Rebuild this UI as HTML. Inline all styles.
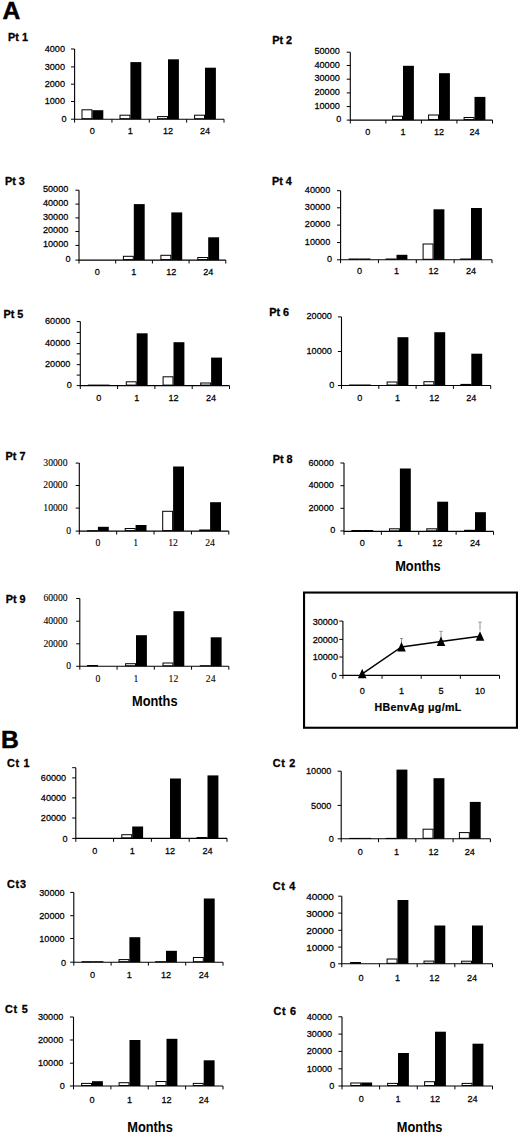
<!DOCTYPE html>
<html><head><meta charset="utf-8"><style>
html,body{margin:0;padding:0;background:#fff;}
body{width:520px;height:1133px;overflow:hidden;}
svg{display:block;}
text{fill:#000;}
.tk{stroke:#000;stroke-width:0.25px;}
.tks{stroke:#000;stroke-width:0.1px;}
.pl{font-family:'Liberation Sans', sans-serif;font-weight:bold;font-size:10.8px;stroke:#000;stroke-width:0.3px;}
.mo{font-family:'Liberation Sans', sans-serif;font-weight:bold;font-size:14px;}
.big{font-family:'Liberation Sans', sans-serif;font-weight:bold;font-size:24.6px;stroke:#000;stroke-width:0.5px;}
.hb{font-family:'Liberation Sans', sans-serif;font-weight:bold;font-size:10.6px;letter-spacing:0.36px;stroke:#000;stroke-width:0.2px;}
</style></head><body>
<svg width="520" height="1133" viewBox="0 0 520 1133">
<rect width="520" height="1133" fill="#fff"/>
<text x="8.1" y="40.6" class="pl">Pt 1</text>
<rect x="82" y="109.8" width="9.9" height="8.9" fill="#fff" stroke="#000" stroke-width="1"/>
<rect x="92.4" y="110.2" width="10.9" height="9" fill="#000"/>
<rect x="120" y="115.2" width="9.9" height="3.5" fill="#fff" stroke="#000" stroke-width="1"/>
<rect x="130.4" y="62.1" width="10.9" height="57.1" fill="#000"/>
<rect x="157.6" y="116.6" width="9.9" height="2.1" fill="#fff" stroke="#000" stroke-width="1"/>
<rect x="168" y="59.3" width="10.9" height="59.9" fill="#000"/>
<rect x="194.6" y="115.2" width="9.9" height="3.5" fill="#fff" stroke="#000" stroke-width="1"/>
<rect x="205" y="67.7" width="10.9" height="51.5" fill="#000"/>
<path d="M74.6 49V119.2H224" fill="none" stroke="#000" stroke-width="1.1"/>
<path d="M71 49H74.6M71 66.9H74.6M71 84.2H74.6M71 101.5H74.6M71 119.2H74.6M74.6 119.2v3.4M111.95 119.2v3.4M149.3 119.2v3.4M186.65 119.2v3.4M224 119.2v3.4" stroke="#000" stroke-width="1"/>
<text transform="translate(65 51.7) scale(0.95 1)" text-anchor="end" style="font-family:'Liberation Sans', sans-serif;font-size:9.6px" class="tk">4000</text>
<text transform="translate(65 69.6) scale(0.95 1)" text-anchor="end" style="font-family:'Liberation Sans', sans-serif;font-size:9.6px" class="tk">3000</text>
<text transform="translate(65 86.9) scale(0.95 1)" text-anchor="end" style="font-family:'Liberation Sans', sans-serif;font-size:9.6px" class="tk">2000</text>
<text transform="translate(65 104.2) scale(0.95 1)" text-anchor="end" style="font-family:'Liberation Sans', sans-serif;font-size:9.6px" class="tk">1000</text>
<text transform="translate(66.5 121.9) scale(0.95 1)" text-anchor="end" style="font-family:'Liberation Sans', sans-serif;font-size:9.6px" class="tk">0</text>
<text transform="translate(92.4 134.4) scale(0.95 1)" text-anchor="middle" style="font-family:'Liberation Sans', sans-serif;font-size:9.6px" class="tk">0</text>
<text transform="translate(130.4 134.4) scale(0.95 1)" text-anchor="middle" style="font-family:'Liberation Sans', sans-serif;font-size:9.6px" class="tk">1</text>
<text transform="translate(168 134.4) scale(0.95 1)" text-anchor="middle" style="font-family:'Liberation Sans', sans-serif;font-size:9.6px" class="tk">12</text>
<text transform="translate(205 134.4) scale(0.95 1)" text-anchor="middle" style="font-family:'Liberation Sans', sans-serif;font-size:9.6px" class="tk">24</text>
<text x="272.2" y="44" class="pl">Pt 2</text>
<rect x="392.6" y="116.2" width="9.9" height="3.4" fill="#fff" stroke="#000" stroke-width="1"/>
<rect x="403" y="65.8" width="10.9" height="54.3" fill="#000"/>
<rect x="428.6" y="115" width="9.9" height="4.6" fill="#fff" stroke="#000" stroke-width="1"/>
<rect x="439" y="73.2" width="10.9" height="46.9" fill="#000"/>
<rect x="464.1" y="117.5" width="9.9" height="2.1" fill="#fff" stroke="#000" stroke-width="1"/>
<rect x="474.5" y="96.9" width="10.9" height="23.2" fill="#000"/>
<path d="M350.3 52.2V120.1H492.5" fill="none" stroke="#000" stroke-width="1.1"/>
<path d="M346.7 52.2H350.3M346.7 65.5H350.3M346.7 79.2H350.3M346.7 92.9H350.3M346.7 106.6H350.3M346.7 120.1H350.3M350.3 120.1v3.4M385.85 120.1v3.4M421.4 120.1v3.4M456.95 120.1v3.4M492.5 120.1v3.4" stroke="#000" stroke-width="1"/>
<text transform="translate(339.8 54.25) scale(0.95 1)" text-anchor="end" style="font-family:'Liberation Sans', sans-serif;font-size:9.6px" class="tk">50000</text>
<text transform="translate(339.8 67.55) scale(0.95 1)" text-anchor="end" style="font-family:'Liberation Sans', sans-serif;font-size:9.6px" class="tk">40000</text>
<text transform="translate(339.8 81.25) scale(0.95 1)" text-anchor="end" style="font-family:'Liberation Sans', sans-serif;font-size:9.6px" class="tk">30000</text>
<text transform="translate(339.8 94.95) scale(0.95 1)" text-anchor="end" style="font-family:'Liberation Sans', sans-serif;font-size:9.6px" class="tk">20000</text>
<text transform="translate(339.8 108.65) scale(0.95 1)" text-anchor="end" style="font-family:'Liberation Sans', sans-serif;font-size:9.6px" class="tk">10000</text>
<text transform="translate(341.3 122.15) scale(0.95 1)" text-anchor="end" style="font-family:'Liberation Sans', sans-serif;font-size:9.6px" class="tk">0</text>
<text transform="translate(367.7 135) scale(0.95 1)" text-anchor="middle" style="font-family:'Liberation Sans', sans-serif;font-size:9.6px" class="tk">0</text>
<text transform="translate(403 135) scale(0.95 1)" text-anchor="middle" style="font-family:'Liberation Sans', sans-serif;font-size:9.6px" class="tk">1</text>
<text transform="translate(439 135) scale(0.95 1)" text-anchor="middle" style="font-family:'Liberation Sans', sans-serif;font-size:9.6px" class="tk">12</text>
<text transform="translate(474.5 135) scale(0.95 1)" text-anchor="middle" style="font-family:'Liberation Sans', sans-serif;font-size:9.6px" class="tk">24</text>
<text x="5" y="184.7" class="pl">Pt 3</text>
<rect x="123.4" y="256.3" width="9.9" height="3.3" fill="#fff" stroke="#000" stroke-width="1"/>
<rect x="133.8" y="204.1" width="10.9" height="56" fill="#000"/>
<rect x="160.9" y="255.3" width="9.9" height="4.3" fill="#fff" stroke="#000" stroke-width="1"/>
<rect x="171.3" y="212.4" width="10.9" height="47.7" fill="#000"/>
<rect x="197.8" y="257.5" width="9.9" height="2.1" fill="#fff" stroke="#000" stroke-width="1"/>
<rect x="208.2" y="237.3" width="10.9" height="22.8" fill="#000"/>
<path d="M79 190.2V260.1H225.8" fill="none" stroke="#000" stroke-width="1.1"/>
<path d="M75.4 190.2H79M75.4 204.1H79M75.4 217.9H79M75.4 231.5H79M75.4 245.4H79M75.4 260.1H79M79 260.1v3.4M115.7 260.1v3.4M152.4 260.1v3.4M189.1 260.1v3.4M225.8 260.1v3.4" stroke="#000" stroke-width="1"/>
<text transform="translate(68.3 192.05) scale(0.95 1)" text-anchor="end" style="font-family:'Liberation Sans', sans-serif;font-size:9.6px" class="tk">50000</text>
<text transform="translate(68.3 205.95) scale(0.95 1)" text-anchor="end" style="font-family:'Liberation Sans', sans-serif;font-size:9.6px" class="tk">40000</text>
<text transform="translate(68.3 219.75) scale(0.95 1)" text-anchor="end" style="font-family:'Liberation Sans', sans-serif;font-size:9.6px" class="tk">30000</text>
<text transform="translate(68.3 233.35) scale(0.95 1)" text-anchor="end" style="font-family:'Liberation Sans', sans-serif;font-size:9.6px" class="tk">20000</text>
<text transform="translate(68.3 247.25) scale(0.95 1)" text-anchor="end" style="font-family:'Liberation Sans', sans-serif;font-size:9.6px" class="tk">10000</text>
<text transform="translate(70.6 261.95) scale(0.95 1)" text-anchor="end" style="font-family:'Liberation Sans', sans-serif;font-size:9.6px" class="tk">0</text>
<text transform="translate(97.2 274.6) scale(0.95 1)" text-anchor="middle" style="font-family:'Liberation Sans', sans-serif;font-size:9.6px" class="tk">0</text>
<text transform="translate(133.8 274.6) scale(0.95 1)" text-anchor="middle" style="font-family:'Liberation Sans', sans-serif;font-size:9.6px" class="tk">1</text>
<text transform="translate(171.3 274.6) scale(0.95 1)" text-anchor="middle" style="font-family:'Liberation Sans', sans-serif;font-size:9.6px" class="tk">12</text>
<text transform="translate(208.2 274.6) scale(0.95 1)" text-anchor="middle" style="font-family:'Liberation Sans', sans-serif;font-size:9.6px" class="tk">24</text>
<text x="272" y="184.7" class="pl">Pt 4</text>
<rect x="349.1" y="259" width="9.9" height="0.3" fill="#fff" stroke="#000" stroke-width="1"/>
<rect x="359.5" y="258.5" width="10.9" height="1.3" fill="#000"/>
<rect x="386.1" y="259" width="9.9" height="0.3" fill="#fff" stroke="#000" stroke-width="1"/>
<rect x="396.5" y="254.8" width="10.9" height="5" fill="#000"/>
<rect x="423.1" y="244" width="9.9" height="15.3" fill="#fff" stroke="#000" stroke-width="1"/>
<rect x="433.5" y="209.3" width="10.9" height="50.5" fill="#000"/>
<rect x="460.6" y="259" width="9.9" height="0.3" fill="#fff" stroke="#000" stroke-width="1"/>
<rect x="471" y="208" width="10.9" height="51.8" fill="#000"/>
<path d="M340.6 190.7V259.8H492" fill="none" stroke="#000" stroke-width="1.1"/>
<path d="M337 190.7H340.6M337 207.8H340.6M337 225.1H340.6M337 242.6H340.6M337 259.8H340.6M340.6 259.8v3.4M378.45 259.8v3.4M416.3 259.8v3.4M454.15 259.8v3.4M492 259.8v3.4" stroke="#000" stroke-width="1"/>
<text transform="translate(330.2 192.6) scale(0.95 1)" text-anchor="end" style="font-family:'Liberation Sans', sans-serif;font-size:9.6px" class="tk">40000</text>
<text transform="translate(330.2 209.7) scale(0.95 1)" text-anchor="end" style="font-family:'Liberation Sans', sans-serif;font-size:9.6px" class="tk">30000</text>
<text transform="translate(330.2 227) scale(0.95 1)" text-anchor="end" style="font-family:'Liberation Sans', sans-serif;font-size:9.6px" class="tk">20000</text>
<text transform="translate(330.2 244.5) scale(0.95 1)" text-anchor="end" style="font-family:'Liberation Sans', sans-serif;font-size:9.6px" class="tk">10000</text>
<text transform="translate(332.2 261.7) scale(0.95 1)" text-anchor="end" style="font-family:'Liberation Sans', sans-serif;font-size:9.6px" class="tk">0</text>
<text transform="translate(359.5 274.4) scale(0.95 1)" text-anchor="middle" style="font-family:'Liberation Sans', sans-serif;font-size:9.6px" class="tk">0</text>
<text transform="translate(396.5 274.4) scale(0.95 1)" text-anchor="middle" style="font-family:'Liberation Sans', sans-serif;font-size:9.6px" class="tk">1</text>
<text transform="translate(433.5 274.4) scale(0.95 1)" text-anchor="middle" style="font-family:'Liberation Sans', sans-serif;font-size:9.6px" class="tk">12</text>
<text transform="translate(471 274.4) scale(0.95 1)" text-anchor="middle" style="font-family:'Liberation Sans', sans-serif;font-size:9.6px" class="tk">24</text>
<text x="3.5" y="318" class="pl">Pt 5</text>
<rect x="88.3" y="385.1" width="9.9" height="0.1" fill="#fff" stroke="#000" stroke-width="1"/>
<rect x="98.7" y="384.6" width="10.9" height="1" fill="#000"/>
<rect x="126.3" y="381.8" width="9.9" height="3.3" fill="#fff" stroke="#000" stroke-width="1"/>
<rect x="136.7" y="333.3" width="10.9" height="52.3" fill="#000"/>
<rect x="163.1" y="376.8" width="9.9" height="8.3" fill="#fff" stroke="#000" stroke-width="1"/>
<rect x="173.5" y="342.2" width="10.9" height="43.4" fill="#000"/>
<rect x="200.7" y="383" width="9.9" height="2.1" fill="#fff" stroke="#000" stroke-width="1"/>
<rect x="211.1" y="357.6" width="10.9" height="28" fill="#000"/>
<path d="M80.3 321.6V385.6H229.5" fill="none" stroke="#000" stroke-width="1.1"/>
<path d="M76.7 321.6H80.3M76.7 332.4H80.3M76.7 343.5H80.3M76.7 353.9H80.3M76.7 364.7H80.3M76.7 375.1H80.3M76.7 385.6H80.3M80.3 385.6v3.4M117.6 385.6v3.4M154.9 385.6v3.4M192.2 385.6v3.4M229.5 385.6v3.4" stroke="#000" stroke-width="1"/>
<text transform="translate(70.4 323.7) scale(0.95 1)" text-anchor="end" style="font-family:'Liberation Sans', sans-serif;font-size:9.6px" class="tk">60000</text>
<text transform="translate(70.4 345.6) scale(0.95 1)" text-anchor="end" style="font-family:'Liberation Sans', sans-serif;font-size:9.6px" class="tk">40000</text>
<text transform="translate(70.4 366.8) scale(0.95 1)" text-anchor="end" style="font-family:'Liberation Sans', sans-serif;font-size:9.6px" class="tk">20000</text>
<text transform="translate(71.9 387.7) scale(0.95 1)" text-anchor="end" style="font-family:'Liberation Sans', sans-serif;font-size:9.6px" class="tk">0</text>
<text transform="translate(98.7 401.1) scale(0.95 1)" text-anchor="middle" style="font-family:'Liberation Sans', sans-serif;font-size:9.6px" class="tk">0</text>
<text transform="translate(136.7 401.1) scale(0.95 1)" text-anchor="middle" style="font-family:'Liberation Sans', sans-serif;font-size:9.6px" class="tk">1</text>
<text transform="translate(173.5 401.1) scale(0.95 1)" text-anchor="middle" style="font-family:'Liberation Sans', sans-serif;font-size:9.6px" class="tk">12</text>
<text transform="translate(211.1 401.1) scale(0.95 1)" text-anchor="middle" style="font-family:'Liberation Sans', sans-serif;font-size:9.6px" class="tk">24</text>
<text x="269.2" y="316.1" class="pl">Pt 6</text>
<rect x="349.5" y="385" width="9.9" height="0.1" fill="#fff" stroke="#000" stroke-width="1"/>
<rect x="359.9" y="384.5" width="10.9" height="1" fill="#000"/>
<rect x="387.1" y="382" width="9.9" height="3" fill="#fff" stroke="#000" stroke-width="1"/>
<rect x="397.5" y="337.2" width="10.9" height="48.3" fill="#000"/>
<rect x="423.9" y="381.7" width="9.9" height="3.3" fill="#fff" stroke="#000" stroke-width="1"/>
<rect x="434.3" y="332.2" width="10.9" height="53.3" fill="#000"/>
<rect x="460.9" y="384.4" width="9.9" height="0.6" fill="#fff" stroke="#000" stroke-width="1"/>
<rect x="471.3" y="353.7" width="10.9" height="31.8" fill="#000"/>
<path d="M341.5 316.9V385.5H490.7" fill="none" stroke="#000" stroke-width="1.1"/>
<path d="M337.9 316.9H341.5M337.9 351.5H341.5M337.9 385.5H341.5M341.5 385.5v3.4M378.8 385.5v3.4M416.1 385.5v3.4M453.4 385.5v3.4M490.7 385.5v3.4" stroke="#000" stroke-width="1"/>
<text transform="translate(331.9 319.1) scale(0.95 1)" text-anchor="end" style="font-family:'Liberation Sans', sans-serif;font-size:9.6px" class="tk">20000</text>
<text transform="translate(331.9 353.7) scale(0.95 1)" text-anchor="end" style="font-family:'Liberation Sans', sans-serif;font-size:9.6px" class="tk">10000</text>
<text transform="translate(334.4 387.7) scale(0.95 1)" text-anchor="end" style="font-family:'Liberation Sans', sans-serif;font-size:9.6px" class="tk">0</text>
<text transform="translate(359.9 401) scale(0.95 1)" text-anchor="middle" style="font-family:'Liberation Sans', sans-serif;font-size:9.6px" class="tk">0</text>
<text transform="translate(397.5 401) scale(0.95 1)" text-anchor="middle" style="font-family:'Liberation Sans', sans-serif;font-size:9.6px" class="tk">1</text>
<text transform="translate(434.3 401) scale(0.95 1)" text-anchor="middle" style="font-family:'Liberation Sans', sans-serif;font-size:9.6px" class="tk">12</text>
<text transform="translate(471.3 401) scale(0.95 1)" text-anchor="middle" style="font-family:'Liberation Sans', sans-serif;font-size:9.6px" class="tk">24</text>
<text x="5.6" y="459.6" class="pl">Pt 7</text>
<rect x="87.5" y="530.7" width="9.9" height="0.1" fill="#fff" stroke="#000" stroke-width="1"/>
<rect x="97.9" y="526.8" width="10.9" height="4.3" fill="#000"/>
<rect x="125.2" y="528.5" width="9.9" height="2.1" fill="#fff" stroke="#000" stroke-width="1"/>
<rect x="135.6" y="525" width="10.9" height="6.1" fill="#000"/>
<rect x="162.7" y="511.3" width="9.9" height="19.3" fill="#fff" stroke="#000" stroke-width="1"/>
<rect x="173.1" y="466.5" width="10.9" height="64.6" fill="#000"/>
<rect x="199.7" y="530" width="9.9" height="0.6" fill="#fff" stroke="#000" stroke-width="1"/>
<rect x="210.1" y="502.2" width="10.9" height="28.9" fill="#000"/>
<path d="M79.3 463.1V531.1H228.8" fill="none" stroke="#000" stroke-width="1.1"/>
<path d="M75.7 463.1H79.3M75.7 485.5H79.3M75.7 508.1H79.3M75.7 531.1H79.3M79.3 531.1v3.4M116.67 531.1v3.4M154.05 531.1v3.4M191.43 531.1v3.4M228.8 531.1v3.4" stroke="#000" stroke-width="1"/>
<text transform="translate(67.5 465.55) scale(0.95 1)" text-anchor="end" style="font-family:'Liberation Serif', serif;font-size:10.2px" class="tks">30000</text>
<text transform="translate(67.5 487.95) scale(0.95 1)" text-anchor="end" style="font-family:'Liberation Serif', serif;font-size:10.2px" class="tks">20000</text>
<text transform="translate(67.5 510.55) scale(0.95 1)" text-anchor="end" style="font-family:'Liberation Serif', serif;font-size:10.2px" class="tks">10000</text>
<text transform="translate(71 533.55) scale(0.95 1)" text-anchor="end" style="font-family:'Liberation Serif', serif;font-size:10.2px" class="tks">0</text>
<text transform="translate(97.9 546.1) scale(0.95 1)" text-anchor="middle" style="font-family:'Liberation Serif', serif;font-size:10.2px" class="tks">0</text>
<text transform="translate(135.6 546.1) scale(0.95 1)" text-anchor="middle" style="font-family:'Liberation Serif', serif;font-size:10.2px" class="tks">1</text>
<text transform="translate(173.1 546.1) scale(0.95 1)" text-anchor="middle" style="font-family:'Liberation Serif', serif;font-size:10.2px" class="tks">12</text>
<text transform="translate(210.1 546.1) scale(0.95 1)" text-anchor="middle" style="font-family:'Liberation Serif', serif;font-size:10.2px" class="tks">24</text>
<text x="272.7" y="462.6" class="pl">Pt 8</text>
<rect x="351.9" y="530.5" width="9.9" height="0.4" fill="#fff" stroke="#000" stroke-width="1"/>
<rect x="362.3" y="530" width="10.9" height="1.4" fill="#000"/>
<rect x="389.5" y="528.8" width="9.9" height="2.1" fill="#fff" stroke="#000" stroke-width="1"/>
<rect x="399.9" y="468.5" width="10.9" height="62.9" fill="#000"/>
<rect x="426.8" y="528.8" width="9.9" height="2.1" fill="#fff" stroke="#000" stroke-width="1"/>
<rect x="437.2" y="501.7" width="10.9" height="29.7" fill="#000"/>
<rect x="464.6" y="530.3" width="9.9" height="0.6" fill="#fff" stroke="#000" stroke-width="1"/>
<rect x="475" y="512.2" width="10.9" height="19.2" fill="#000"/>
<path d="M344 463V531.4H493.5" fill="none" stroke="#000" stroke-width="1.1"/>
<path d="M340.4 463H344M340.4 485.7H344M340.4 508.3H344M340.4 530.9H344M344 531.4v3.4M381.38 531.4v3.4M418.75 531.4v3.4M456.12 531.4v3.4M493.5 531.4v3.4" stroke="#000" stroke-width="1"/>
<text transform="translate(333.8 465.55) scale(0.95 1)" text-anchor="end" style="font-family:'Liberation Sans', sans-serif;font-size:9.6px" class="tk">60000</text>
<text transform="translate(333.8 488.25) scale(0.95 1)" text-anchor="end" style="font-family:'Liberation Sans', sans-serif;font-size:9.6px" class="tk">40000</text>
<text transform="translate(333.8 510.85) scale(0.95 1)" text-anchor="end" style="font-family:'Liberation Sans', sans-serif;font-size:9.6px" class="tk">20000</text>
<text transform="translate(335.3 533.45) scale(0.95 1)" text-anchor="end" style="font-family:'Liberation Sans', sans-serif;font-size:9.6px" class="tk">0</text>
<text transform="translate(362.3 545.6) scale(0.95 1)" text-anchor="middle" style="font-family:'Liberation Sans', sans-serif;font-size:9.6px" class="tk">0</text>
<text transform="translate(399.9 545.6) scale(0.95 1)" text-anchor="middle" style="font-family:'Liberation Sans', sans-serif;font-size:9.6px" class="tk">1</text>
<text transform="translate(437.2 545.6) scale(0.95 1)" text-anchor="middle" style="font-family:'Liberation Sans', sans-serif;font-size:9.6px" class="tk">12</text>
<text transform="translate(475 545.6) scale(0.95 1)" text-anchor="middle" style="font-family:'Liberation Sans', sans-serif;font-size:9.6px" class="tk">24</text>
<text x="5.8" y="602.7" class="pl">Pt 9</text>
<rect x="87.6" y="665.5" width="9.9" height="0.3" fill="#fff" stroke="#000" stroke-width="1"/>
<rect x="125.6" y="663.7" width="9.9" height="2.1" fill="#fff" stroke="#000" stroke-width="1"/>
<rect x="136" y="635.2" width="10.9" height="31.1" fill="#000"/>
<rect x="163" y="663" width="9.9" height="2.8" fill="#fff" stroke="#000" stroke-width="1"/>
<rect x="173.4" y="611.2" width="10.9" height="55.1" fill="#000"/>
<rect x="200.3" y="665.7" width="9.9" height="0.1" fill="#fff" stroke="#000" stroke-width="1"/>
<rect x="210.7" y="637.3" width="10.9" height="29" fill="#000"/>
<path d="M79.8 598.5V666.3H228.8" fill="none" stroke="#000" stroke-width="1.1"/>
<path d="M76.2 598.5H79.8M76.2 621.2H79.8M76.2 643.8H79.8M76.2 666.3H79.8M79.8 666.3v3.4M117.05 666.3v3.4M154.3 666.3v3.4M191.55 666.3v3.4M228.8 666.3v3.4" stroke="#000" stroke-width="1"/>
<text transform="translate(67.6 601.25) scale(0.95 1)" text-anchor="end" style="font-family:'Liberation Serif', serif;font-size:10.2px" class="tks">60000</text>
<text transform="translate(67.6 623.95) scale(0.95 1)" text-anchor="end" style="font-family:'Liberation Serif', serif;font-size:10.2px" class="tks">40000</text>
<text transform="translate(67.6 646.55) scale(0.95 1)" text-anchor="end" style="font-family:'Liberation Serif', serif;font-size:10.2px" class="tks">20000</text>
<text transform="translate(71.1 669.05) scale(0.95 1)" text-anchor="end" style="font-family:'Liberation Serif', serif;font-size:10.2px" class="tks">0</text>
<text transform="translate(98 681.5) scale(0.95 1)" text-anchor="middle" style="font-family:'Liberation Serif', serif;font-size:10.2px" class="tks">0</text>
<text transform="translate(136 681.5) scale(0.95 1)" text-anchor="middle" style="font-family:'Liberation Serif', serif;font-size:10.2px" class="tks">1</text>
<text transform="translate(173.4 681.5) scale(0.95 1)" text-anchor="middle" style="font-family:'Liberation Serif', serif;font-size:10.2px" class="tks">12</text>
<text transform="translate(210.7 681.5) scale(0.95 1)" text-anchor="middle" style="font-family:'Liberation Serif', serif;font-size:10.2px" class="tks">24</text>
<text x="6.9" y="767.3" class="pl" style="letter-spacing:0.75px">Ct 1</text>
<rect x="121.8" y="834.7" width="9.9" height="3.2" fill="#fff" stroke="#000" stroke-width="1"/>
<rect x="132.2" y="826.5" width="10.9" height="11.9" fill="#000"/>
<rect x="170" y="778.5" width="10.9" height="59.9" fill="#000"/>
<rect x="197.1" y="837.5" width="9.9" height="0.4" fill="#fff" stroke="#000" stroke-width="1"/>
<rect x="207.5" y="775.4" width="10.9" height="63" fill="#000"/>
<path d="M75.8 767.7V838.4H227" fill="none" stroke="#000" stroke-width="1.1"/>
<path d="M72.2 767.7H75.8M72.2 777.9H75.8M72.2 797.9H75.8M72.2 818H75.8M72.2 838.4H75.8M75.8 838.4v3.4M113.6 838.4v3.4M151.4 838.4v3.4M189.2 838.4v3.4M227 838.4v3.4" stroke="#000" stroke-width="1"/>
<text transform="translate(66.2 781) scale(0.95 1)" text-anchor="end" style="font-family:'Liberation Sans', sans-serif;font-size:9.6px" class="tk">60000</text>
<text transform="translate(66.2 801) scale(0.95 1)" text-anchor="end" style="font-family:'Liberation Sans', sans-serif;font-size:9.6px" class="tk">40000</text>
<text transform="translate(66.2 821.1) scale(0.95 1)" text-anchor="end" style="font-family:'Liberation Sans', sans-serif;font-size:9.6px" class="tk">20000</text>
<text transform="translate(67.7 841.5) scale(0.95 1)" text-anchor="end" style="font-family:'Liberation Sans', sans-serif;font-size:9.6px" class="tk">0</text>
<text transform="translate(94.9 854) scale(0.95 1)" text-anchor="middle" style="font-family:'Liberation Sans', sans-serif;font-size:9.6px" class="tk">0</text>
<text transform="translate(132.2 854) scale(0.95 1)" text-anchor="middle" style="font-family:'Liberation Sans', sans-serif;font-size:9.6px" class="tk">1</text>
<text transform="translate(170 854) scale(0.95 1)" text-anchor="middle" style="font-family:'Liberation Sans', sans-serif;font-size:9.6px" class="tk">12</text>
<text transform="translate(207.5 854) scale(0.95 1)" text-anchor="middle" style="font-family:'Liberation Sans', sans-serif;font-size:9.6px" class="tk">24</text>
<text x="272.7" y="766.6" class="pl" style="letter-spacing:0.75px">Ct 2</text>
<rect x="349.8" y="838.4" width="9.9" height="0.1" fill="#fff" stroke="#000" stroke-width="1"/>
<rect x="360.2" y="837.9" width="10.9" height="0.9" fill="#000"/>
<rect x="386.1" y="838.4" width="9.9" height="0.1" fill="#fff" stroke="#000" stroke-width="1"/>
<rect x="396.5" y="769.6" width="10.9" height="69.2" fill="#000"/>
<rect x="423.1" y="829.2" width="9.9" height="9.1" fill="#fff" stroke="#000" stroke-width="1"/>
<rect x="433.5" y="778.2" width="10.9" height="60.6" fill="#000"/>
<rect x="459.4" y="832.6" width="9.9" height="5.7" fill="#fff" stroke="#000" stroke-width="1"/>
<rect x="469.8" y="801.9" width="10.9" height="36.9" fill="#000"/>
<path d="M341.2 771.2V838.8H490.4" fill="none" stroke="#000" stroke-width="1.1"/>
<path d="M337.6 771.2H341.2M337.6 805.4H341.2M337.6 838.8H341.2M341.2 838.8v3.4M378.5 838.8v3.4M415.8 838.8v3.4M453.1 838.8v3.4M490.4 838.8v3.4" stroke="#000" stroke-width="1"/>
<text transform="translate(331.4 774.35) scale(0.95 1)" text-anchor="end" style="font-family:'Liberation Sans', sans-serif;font-size:9.6px" class="tk">10000</text>
<text transform="translate(331.4 808.55) scale(0.95 1)" text-anchor="end" style="font-family:'Liberation Sans', sans-serif;font-size:9.6px" class="tk">5000</text>
<text transform="translate(333.8 841.95) scale(0.95 1)" text-anchor="end" style="font-family:'Liberation Sans', sans-serif;font-size:9.6px" class="tk">0</text>
<text transform="translate(360.2 855.1) scale(0.95 1)" text-anchor="middle" style="font-family:'Liberation Sans', sans-serif;font-size:9.6px" class="tk">0</text>
<text transform="translate(396.5 855.1) scale(0.95 1)" text-anchor="middle" style="font-family:'Liberation Sans', sans-serif;font-size:9.6px" class="tk">1</text>
<text transform="translate(433.5 855.1) scale(0.95 1)" text-anchor="middle" style="font-family:'Liberation Sans', sans-serif;font-size:9.6px" class="tk">12</text>
<text transform="translate(469.8 855.1) scale(0.95 1)" text-anchor="middle" style="font-family:'Liberation Sans', sans-serif;font-size:9.6px" class="tk">24</text>
<text x="7" y="888" class="pl" style="letter-spacing:0.75px">Ct3</text>
<rect x="82.1" y="961.7" width="9.9" height="0.1" fill="#fff" stroke="#000" stroke-width="1"/>
<rect x="92.5" y="961.2" width="10.9" height="1" fill="#000"/>
<rect x="119" y="959.6" width="9.9" height="2.1" fill="#fff" stroke="#000" stroke-width="1"/>
<rect x="129.4" y="937.2" width="10.9" height="25" fill="#000"/>
<rect x="155.6" y="961.7" width="9.9" height="0.1" fill="#fff" stroke="#000" stroke-width="1"/>
<rect x="166" y="950.8" width="10.9" height="11.4" fill="#000"/>
<rect x="193.4" y="957.5" width="9.9" height="4.2" fill="#fff" stroke="#000" stroke-width="1"/>
<rect x="203.8" y="898.5" width="10.9" height="63.7" fill="#000"/>
<path d="M73.8 892.4V962.2H223" fill="none" stroke="#000" stroke-width="1.1"/>
<path d="M70.2 892.4H73.8M70.2 915.7H73.8M70.2 938.5H73.8M70.2 962.2H73.8M73.8 962.2v3.4M111.1 962.2v3.4M148.4 962.2v3.4M185.7 962.2v3.4M223 962.2v3.4" stroke="#000" stroke-width="1"/>
<text transform="translate(64.6 896) scale(0.95 1)" text-anchor="end" style="font-family:'Liberation Sans', sans-serif;font-size:9.6px" class="tk">30000</text>
<text transform="translate(64.6 919.3) scale(0.95 1)" text-anchor="end" style="font-family:'Liberation Sans', sans-serif;font-size:9.6px" class="tk">20000</text>
<text transform="translate(64.6 942.1) scale(0.95 1)" text-anchor="end" style="font-family:'Liberation Sans', sans-serif;font-size:9.6px" class="tk">10000</text>
<text transform="translate(66.1 965.8) scale(0.95 1)" text-anchor="end" style="font-family:'Liberation Sans', sans-serif;font-size:9.6px" class="tk">0</text>
<text transform="translate(92.5 977.8) scale(0.95 1)" text-anchor="middle" style="font-family:'Liberation Sans', sans-serif;font-size:9.6px" class="tk">0</text>
<text transform="translate(129.4 977.8) scale(0.95 1)" text-anchor="middle" style="font-family:'Liberation Sans', sans-serif;font-size:9.6px" class="tk">1</text>
<text transform="translate(166 977.8) scale(0.95 1)" text-anchor="middle" style="font-family:'Liberation Sans', sans-serif;font-size:9.6px" class="tk">12</text>
<text transform="translate(203.8 977.8) scale(0.95 1)" text-anchor="middle" style="font-family:'Liberation Sans', sans-serif;font-size:9.6px" class="tk">24</text>
<text x="272.7" y="890.3" class="pl" style="letter-spacing:0.75px">Ct 4</text>
<rect x="350.6" y="962.5" width="9.9" height="0.8" fill="#fff" stroke="#000" stroke-width="1"/>
<rect x="387.1" y="959" width="9.9" height="4.3" fill="#fff" stroke="#000" stroke-width="1"/>
<rect x="397.5" y="900" width="10.9" height="63.8" fill="#000"/>
<rect x="424" y="961.1" width="9.9" height="2.2" fill="#fff" stroke="#000" stroke-width="1"/>
<rect x="434.4" y="925.5" width="10.9" height="38.3" fill="#000"/>
<rect x="461.6" y="961.2" width="9.9" height="2.1" fill="#fff" stroke="#000" stroke-width="1"/>
<rect x="472" y="925.5" width="10.9" height="38.3" fill="#000"/>
<path d="M341.8 896.2V963.8H492.5" fill="none" stroke="#000" stroke-width="1.1"/>
<path d="M338.2 896.2H341.8M338.2 913.1H341.8M338.2 930.3H341.8M338.2 947.1H341.8M338.2 963.8H341.8M341.8 963.8v3.4M379.48 963.8v3.4M417.15 963.8v3.4M454.82 963.8v3.4M492.5 963.8v3.4" stroke="#000" stroke-width="1"/>
<text transform="translate(333.9 900.2) scale(1.04 1)" text-anchor="end" style="font-family:'Liberation Sans', sans-serif;font-size:9.6px" class="tk">40000</text>
<text transform="translate(333.9 917.1) scale(1.04 1)" text-anchor="end" style="font-family:'Liberation Sans', sans-serif;font-size:9.6px" class="tk">30000</text>
<text transform="translate(333.9 934.3) scale(1.04 1)" text-anchor="end" style="font-family:'Liberation Sans', sans-serif;font-size:9.6px" class="tk">20000</text>
<text transform="translate(333.9 951.1) scale(1.04 1)" text-anchor="end" style="font-family:'Liberation Sans', sans-serif;font-size:9.6px" class="tk">10000</text>
<text transform="translate(335.4 967.8) scale(1.04 1)" text-anchor="end" style="font-family:'Liberation Sans', sans-serif;font-size:9.6px" class="tk">0</text>
<text transform="translate(361 980.7) scale(0.95 1)" text-anchor="middle" style="font-family:'Liberation Sans', sans-serif;font-size:9.6px" class="tk">0</text>
<text transform="translate(397.5 980.7) scale(0.95 1)" text-anchor="middle" style="font-family:'Liberation Sans', sans-serif;font-size:9.6px" class="tk">1</text>
<text transform="translate(434.4 980.7) scale(0.95 1)" text-anchor="middle" style="font-family:'Liberation Sans', sans-serif;font-size:9.6px" class="tk">12</text>
<text transform="translate(472 980.7) scale(0.95 1)" text-anchor="middle" style="font-family:'Liberation Sans', sans-serif;font-size:9.6px" class="tk">24</text>
<text x="5" y="1013" class="pl" style="letter-spacing:0.75px">Ct 5</text>
<rect x="81.6" y="1083.4" width="9.9" height="2.1" fill="#fff" stroke="#000" stroke-width="1"/>
<rect x="92" y="1081.2" width="10.9" height="4.8" fill="#000"/>
<rect x="119.1" y="1082.7" width="9.9" height="2.8" fill="#fff" stroke="#000" stroke-width="1"/>
<rect x="129.5" y="1040" width="10.9" height="46" fill="#000"/>
<rect x="156.1" y="1081.5" width="9.9" height="4" fill="#fff" stroke="#000" stroke-width="1"/>
<rect x="166.5" y="1038.8" width="10.9" height="47.2" fill="#000"/>
<rect x="193.3" y="1083.4" width="9.9" height="2.1" fill="#fff" stroke="#000" stroke-width="1"/>
<rect x="203.7" y="1060.3" width="10.9" height="25.7" fill="#000"/>
<path d="M73.5 1017V1086H223" fill="none" stroke="#000" stroke-width="1.1"/>
<path d="M69.9 1017H73.5M69.9 1040H73.5M69.9 1063.2H73.5M69.9 1086H73.5M73.5 1086v3.4M110.88 1086v3.4M148.25 1086v3.4M185.62 1086v3.4M223 1086v3.4" stroke="#000" stroke-width="1"/>
<text transform="translate(63.3 1019.95) scale(0.95 1)" text-anchor="end" style="font-family:'Liberation Sans', sans-serif;font-size:9.6px" class="tk">30000</text>
<text transform="translate(63.3 1042.95) scale(0.95 1)" text-anchor="end" style="font-family:'Liberation Sans', sans-serif;font-size:9.6px" class="tk">20000</text>
<text transform="translate(63.3 1066.15) scale(0.95 1)" text-anchor="end" style="font-family:'Liberation Sans', sans-serif;font-size:9.6px" class="tk">10000</text>
<text transform="translate(64.8 1088.95) scale(0.95 1)" text-anchor="end" style="font-family:'Liberation Sans', sans-serif;font-size:9.6px" class="tk">0</text>
<text transform="translate(92 1103.3) scale(0.95 1)" text-anchor="middle" style="font-family:'Liberation Sans', sans-serif;font-size:9.6px" class="tk">0</text>
<text transform="translate(129.5 1103.3) scale(0.95 1)" text-anchor="middle" style="font-family:'Liberation Sans', sans-serif;font-size:9.6px" class="tk">1</text>
<text transform="translate(166.5 1103.3) scale(0.95 1)" text-anchor="middle" style="font-family:'Liberation Sans', sans-serif;font-size:9.6px" class="tk">12</text>
<text transform="translate(203.7 1103.3) scale(0.95 1)" text-anchor="middle" style="font-family:'Liberation Sans', sans-serif;font-size:9.6px" class="tk">24</text>
<text x="273.4" y="1015.4" class="pl" style="letter-spacing:0.75px">Ct 6</text>
<rect x="350.8" y="1083" width="9.9" height="2.5" fill="#fff" stroke="#000" stroke-width="1"/>
<rect x="361.2" y="1082.5" width="10.9" height="3.5" fill="#000"/>
<rect x="387.6" y="1083.4" width="9.9" height="2.1" fill="#fff" stroke="#000" stroke-width="1"/>
<rect x="398" y="1053" width="10.9" height="33" fill="#000"/>
<rect x="424.6" y="1081.7" width="9.9" height="3.8" fill="#fff" stroke="#000" stroke-width="1"/>
<rect x="435" y="1031.7" width="10.9" height="54.3" fill="#000"/>
<rect x="462.1" y="1083.4" width="9.9" height="2.1" fill="#fff" stroke="#000" stroke-width="1"/>
<rect x="472.5" y="1043.7" width="10.9" height="42.3" fill="#000"/>
<path d="M342 1016.8V1086H492.5" fill="none" stroke="#000" stroke-width="1.1"/>
<path d="M338.4 1016.8H342M338.4 1034.1H342M338.4 1051.4H342M338.4 1068.8H342M338.4 1086H342M342 1086v3.4M379.62 1086v3.4M417.25 1086v3.4M454.88 1086v3.4M492.5 1086v3.4" stroke="#000" stroke-width="1"/>
<text transform="translate(332.1 1019.75) scale(0.95 1)" text-anchor="end" style="font-family:'Liberation Sans', sans-serif;font-size:9.6px" class="tk">40000</text>
<text transform="translate(332.1 1037.05) scale(0.95 1)" text-anchor="end" style="font-family:'Liberation Sans', sans-serif;font-size:9.6px" class="tk">30000</text>
<text transform="translate(332.1 1054.35) scale(0.95 1)" text-anchor="end" style="font-family:'Liberation Sans', sans-serif;font-size:9.6px" class="tk">20000</text>
<text transform="translate(332.1 1071.75) scale(0.95 1)" text-anchor="end" style="font-family:'Liberation Sans', sans-serif;font-size:9.6px" class="tk">10000</text>
<text transform="translate(334.3 1088.95) scale(0.95 1)" text-anchor="end" style="font-family:'Liberation Sans', sans-serif;font-size:9.6px" class="tk">0</text>
<text transform="translate(361.2 1102.3) scale(0.95 1)" text-anchor="middle" style="font-family:'Liberation Sans', sans-serif;font-size:9.6px" class="tk">0</text>
<text transform="translate(398 1102.3) scale(0.95 1)" text-anchor="middle" style="font-family:'Liberation Sans', sans-serif;font-size:9.6px" class="tk">1</text>
<text transform="translate(435 1102.3) scale(0.95 1)" text-anchor="middle" style="font-family:'Liberation Sans', sans-serif;font-size:9.6px" class="tk">12</text>
<text transform="translate(472.5 1102.3) scale(0.95 1)" text-anchor="middle" style="font-family:'Liberation Sans', sans-serif;font-size:9.6px" class="tk">24</text>
<text transform="translate(417.9 570.8) scale(0.915 1)" text-anchor="middle" class="mo">Months</text>
<text transform="translate(154.8 706.2) scale(0.915 1)" text-anchor="middle" class="mo">Months</text>
<text transform="translate(150 1131.8) scale(0.915 1)" text-anchor="middle" class="mo">Months</text>
<text transform="translate(419.6 1131.8) scale(0.915 1)" text-anchor="middle" class="mo">Months</text>
<text x="2.4" y="18.5" class="big">A</text>
<text x="1.1" y="747.7" class="big">B</text>
<rect x="304.05" y="592.55" width="212.9" height="135.2" fill="none" stroke="#000" stroke-width="2.1"/>
<path d="M342.9 621.1V675.4H499.5" fill="none" stroke="#000" stroke-width="1.1"/>
<path d="M339.3 621.1H342.9M339.3 639.4H342.9M339.3 657H342.9M339.3 675.4H342.9M342.9 675.4v3.4M382.05 675.4v3.4M421.2 675.4v3.4M460.35 675.4v3.4M499.5 675.4v3.4" stroke="#000" stroke-width="1"/>
<text transform="translate(338 624.55) scale(0.95 1)" text-anchor="end" style="font-family:'Liberation Sans', sans-serif;font-size:9.6px" class="tk">30000</text>
<text transform="translate(338 642.85) scale(0.95 1)" text-anchor="end" style="font-family:'Liberation Sans', sans-serif;font-size:9.6px" class="tk">20000</text>
<text transform="translate(338 660.45) scale(0.95 1)" text-anchor="end" style="font-family:'Liberation Sans', sans-serif;font-size:9.6px" class="tk">10000</text>
<text transform="translate(336.6 678.85) scale(0.95 1)" text-anchor="end" style="font-family:'Liberation Sans', sans-serif;font-size:9.6px" class="tk">0</text>
<path d="M401.5 638.5V646.5M399.9 638.5h3.2" stroke="#888" stroke-width="0.9"/>
<path d="M441 631.4V639.4M439.4 631.4h3.2" stroke="#888" stroke-width="0.9"/>
<path d="M480 622.2V630.2M478.4 622.2h3.2" stroke="#888" stroke-width="0.9"/>
<polyline points="362.2,673.8 401.5,647 441,641.5 480,636.3" fill="none" stroke="#000" stroke-width="1.4"/>
<path d="M362.2 668.8L366.5 678.2H357.9Z" fill="#000"/>
<path d="M401.5 642L405.8 651.4H397.2Z" fill="#000"/>
<path d="M441 636.5L445.3 645.9H436.7Z" fill="#000"/>
<path d="M480 631.3L484.3 640.7H475.7Z" fill="#000"/>
<text transform="translate(362.2 694.1) scale(0.95 1)" text-anchor="middle" style="font-family:'Liberation Sans', sans-serif;font-size:9.6px" class="tk">0</text>
<text transform="translate(401.5 694.1) scale(0.95 1)" text-anchor="middle" style="font-family:'Liberation Sans', sans-serif;font-size:9.6px" class="tk">1</text>
<text transform="translate(441 694.1) scale(0.95 1)" text-anchor="middle" style="font-family:'Liberation Sans', sans-serif;font-size:9.6px" class="tk">5</text>
<text transform="translate(480 694.1) scale(0.95 1)" text-anchor="middle" style="font-family:'Liberation Sans', sans-serif;font-size:9.6px" class="tk">10</text>
<text x="374.5" y="710.8" class="hb">HBenvAg μg/mL</text>
</svg>
</body></html>
